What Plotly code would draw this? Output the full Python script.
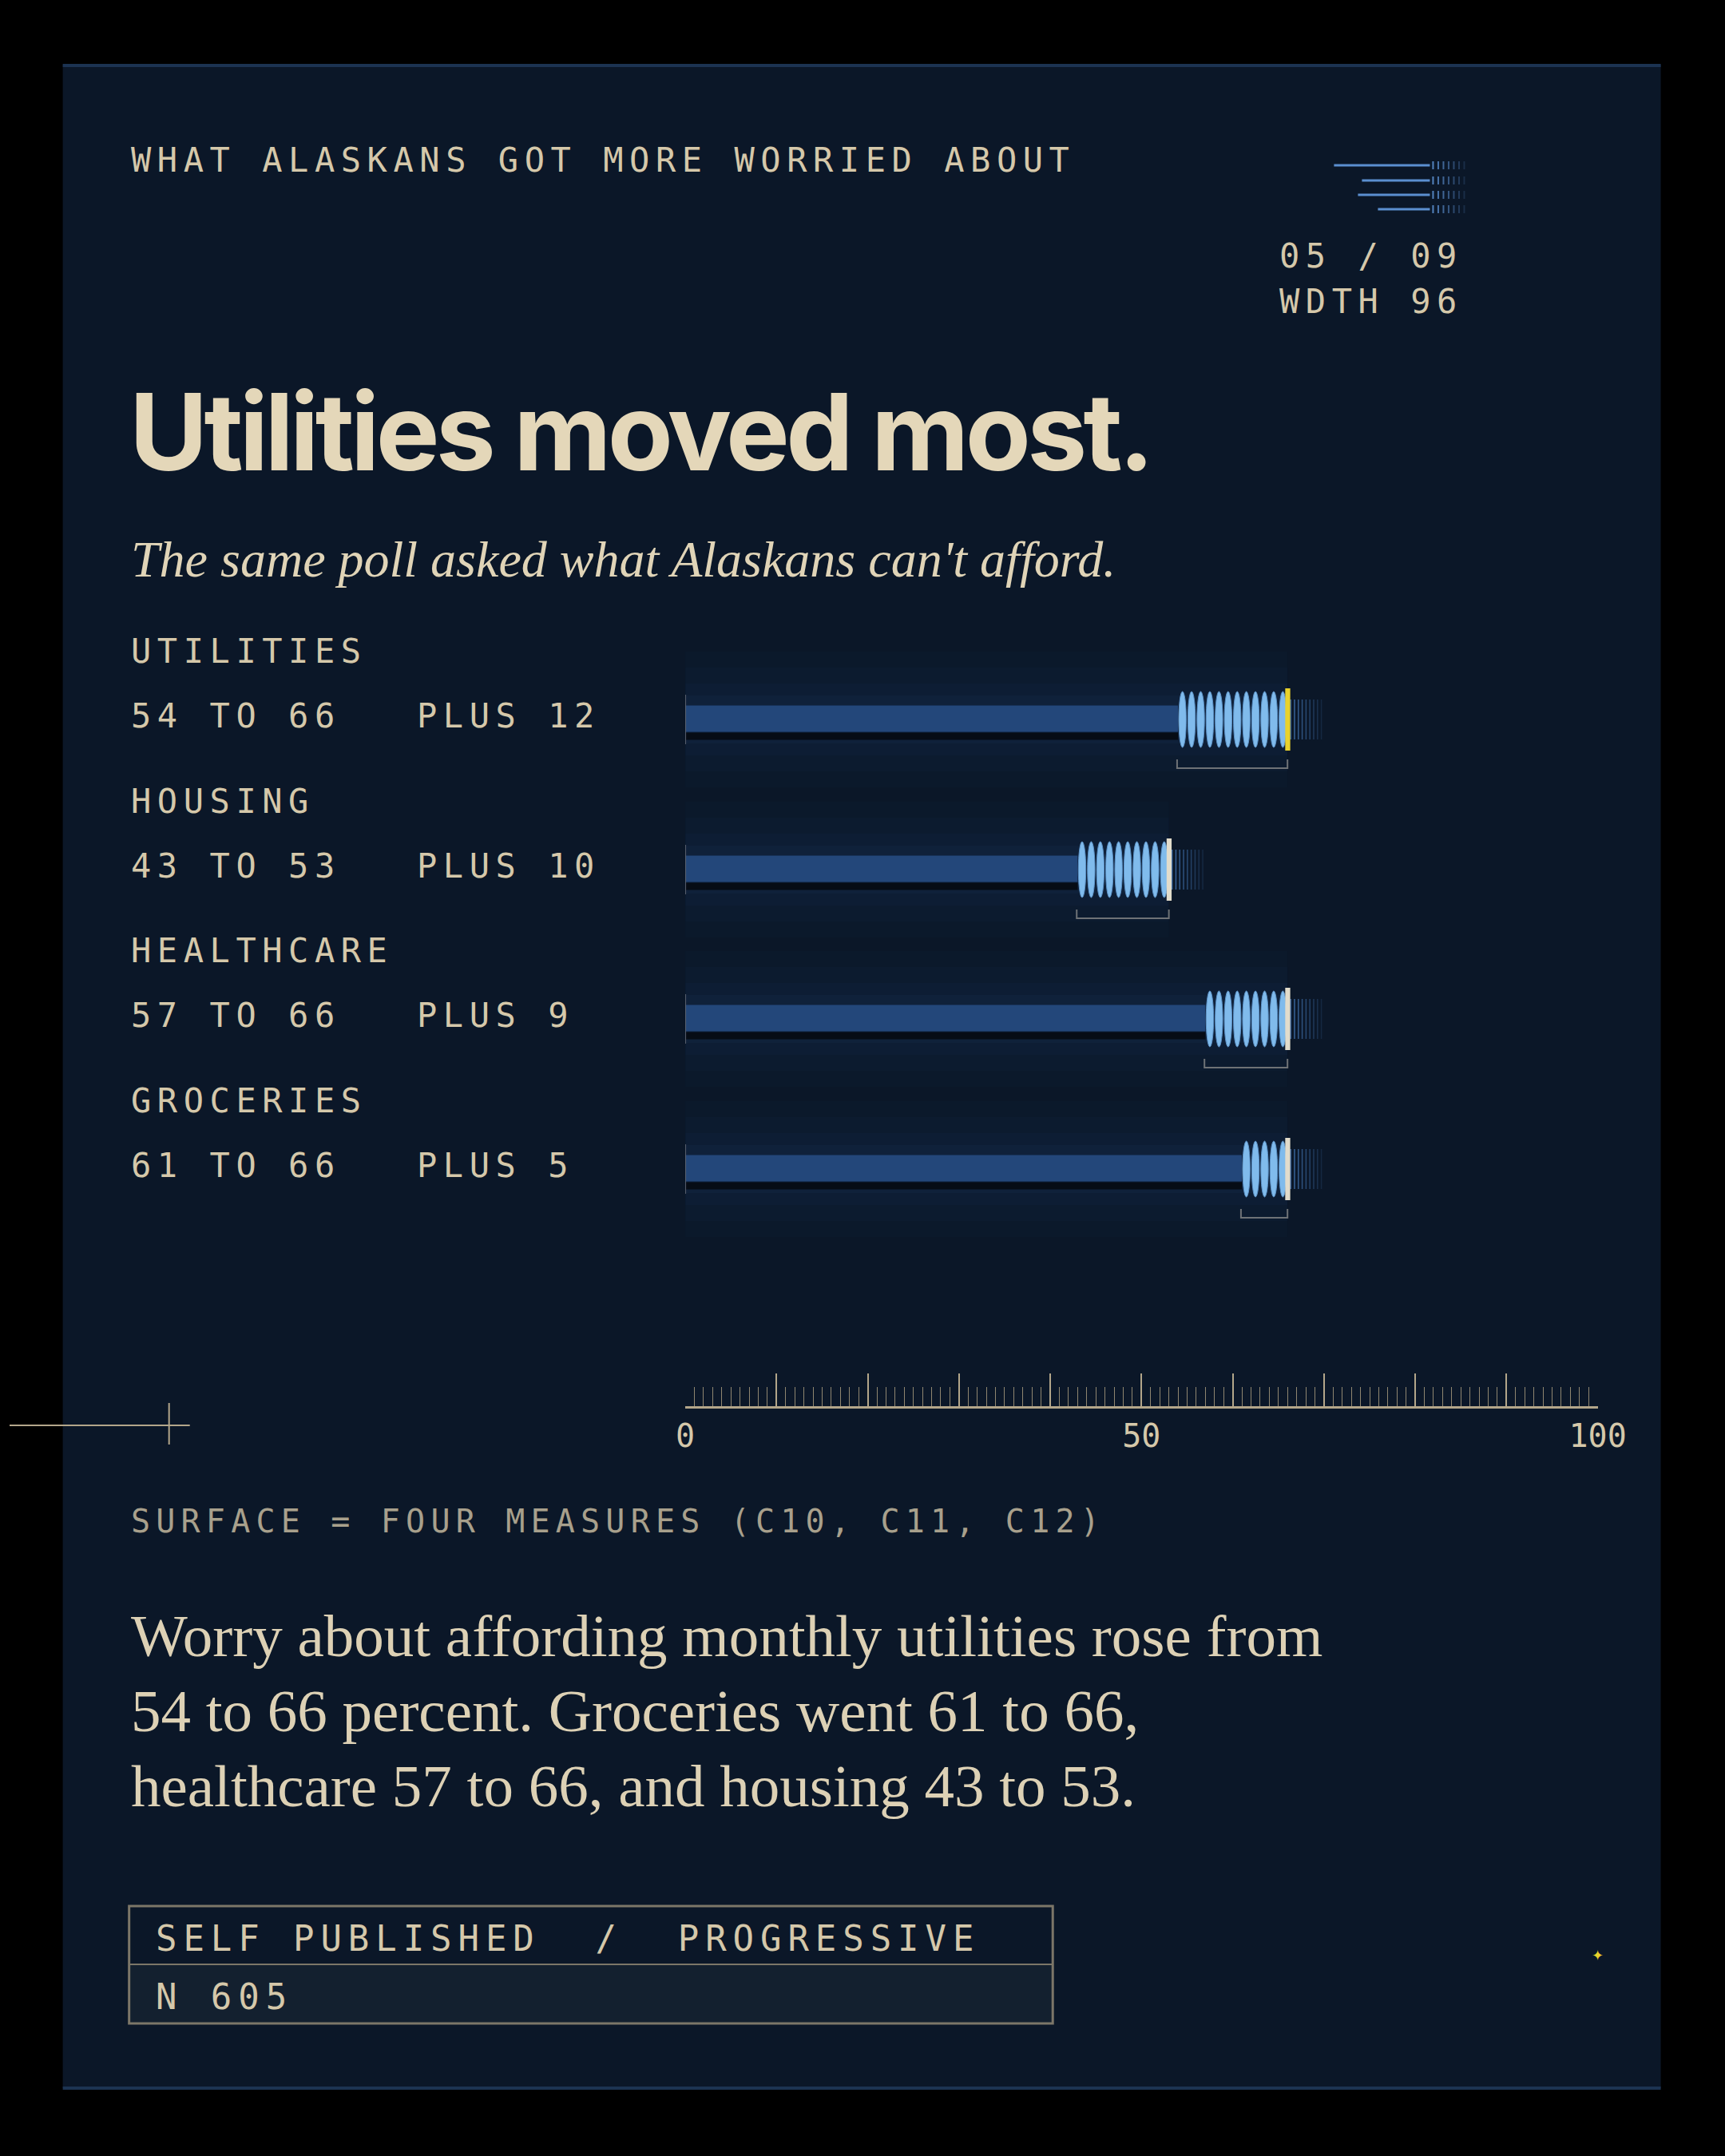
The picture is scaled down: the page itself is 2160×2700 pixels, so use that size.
import plotly.graph_objects as go

# data
categories = ["UTILITIES", "HOUSING", "HEALTHCARE", "GROCERIES"]
before = [54, 43, 57, 61]
after = [66, 53, 66, 66]
axis_ticks = list(range(0, 101, 10))
axis_labels = ["0", "", "", "", "", "50", "", "", "", "", "100"]

W, H = 2160, 2700
BG = "#0b1728"
CREAM = "#d5c8aa"
DIM = "#a8a08c"
MONO = "DejaVu Sans Mono"
row_y = [901, 1089, 1276, 1464]   # pixel centre of each bar row
BAR_DOMAIN = [0.4006, 0.9416]

fig = go.Figure()

# soft glow behind bars
for c, a in zip(row_y, after):
    for w, op in [(170, 0.025), (130, 0.03), (90, 0.04), (60, 0.05)]:
        fig.add_trace(go.Bar(orientation="h", x=[a + 1], y=[c], width=w, base=-1,
                             marker=dict(color="#3a6cb0", line_width=0), opacity=op,
                             xaxis="x2", yaxis="y", showlegend=False, hoverinfo="skip"))

# shadow under the base bar, then the base bar
fig.add_trace(go.Bar(orientation="h", x=before, y=[c + 21 for c in row_y], width=9, base=0,
                     marker=dict(color="#060c15", line_width=0),
                     xaxis="x2", yaxis="y", showlegend=False, hoverinfo="skip"))
fig.add_trace(go.Bar(orientation="h", x=before, y=[c - 1 for c in row_y], width=33, base=0,
                     marker=dict(color="#23477a", line_width=0),
                     xaxis="x2", yaxis="y", showlegend=False, hoverinfo="skip"))

shapes = [
    dict(type="rect", xref="x", yref="y", x0=79, x1=2079, y0=81, y1=2615,
         fillcolor=BG, line_width=0, layer="below"),
]
for i, (c, b, a) in enumerate(zip(row_y, before, after)):
    # zero tick
    shapes.append(dict(type="line", xref="x2", yref="y", x0=0, x1=0, y0=c - 31, y1=c + 31,
                       line=dict(color="#5a6270", width=2)))
    # ridged gain segment
    for k in range(b, a):
        shapes.append(dict(type="circle", xref="x2", yref="y", x0=k + 0.08, x1=k + 0.9,
                           y0=c - 35, y1=c + 35, fillcolor="#80bbec",
                           line=dict(color="#5d93c8", width=1)))
    # faint fading lines after the end
    for j in range(9):
        xx = a + 0.35 + j * 0.42
        shapes.append(dict(type="line", xref="x2", yref="y", x0=xx, x1=xx, y0=c - 25, y1=c + 25,
                           line=dict(color="#4a80c4", width=1.5), opacity=max(0.1, 0.8 - j * 0.08)))
    # end marker
    shapes.append(dict(type="rect", xref="x2", yref="y", x0=a - 0.25, x1=a + 0.3,
                       y0=c - 39, y1=c + 39, line_width=0,
                       fillcolor="#e9d22c" if i == 0 else "#e2dccb"))
    # bracket under gain
    shapes.append(dict(type="path", xref="x2", yref="y",
                       path=f"M {b - 0.1} {c + 50} L {b - 0.1} {c + 61} L {a} {c + 61} L {a} {c + 50}",
                       line=dict(color="#6e7276", width=2)))

shapes += [
    dict(type="line", xref="x", yref="y", x0=79, x1=2079, y0=82, y1=82, line=dict(color="#1c3352", width=4)),
    dict(type="line", xref="x", yref="y", x0=79, x1=2079, y0=2615, y1=2615, line=dict(color="#1c3352", width=4)),
    # crosshair
    dict(type="line", xref="x", yref="y", x0=0, x1=238, y0=1785, y1=1785, line=dict(color="#b3a68a", width=2)),
    dict(type="line", xref="x", yref="y", x0=212, x1=212, y0=1757, y1=1809, line=dict(color="#b3a68a", width=2)),
    # footer box
    dict(type="rect", xref="x", yref="y", x0=162, x1=1318, y0=2460, y1=2534,
         fillcolor="#13202f", line_width=0),
    dict(type="rect", xref="x", yref="y", x0=162, x1=1318, y0=2387, y1=2534,
         line=dict(color="#7c7668", width=3)),
    dict(type="line", xref="x", yref="y", x0=162, x1=1318, y0=2460, y1=2460,
         line=dict(color="#7c7668", width=2)),
]

# small icon top right
for y0, x0 in [(207, 1670), (226, 1705), (244, 1700), (262, 1725)]:
    shapes.append(dict(type="line", xref="x", yref="y", x0=x0, x1=1790, y0=y0, y1=y0,
                       line=dict(color="#5b8fd0", width=3)))
    for j in range(7):
        xx = 1794 + j * 6.5
        shapes.append(dict(type="line", xref="x", yref="y", x0=xx, x1=xx, y0=y0 - 5, y1=y0 + 5,
                           line=dict(color="#5b8fd0", width=2), opacity=0.9 - j * 0.12))

ann = []


def txt(x, y, s, size, color=CREAM, family=MONO, **kw):
    ann.append(dict(x=x, y=y, xref="x", yref="y", text=s, showarrow=False, xanchor="left",
                    yanchor="middle", font=dict(size=size, color=color, family=family), **kw))


txt(162, 200, "WHAT ALASKANS GOT MORE WORRIED ABOUT", 42)
txt(1600, 320, "05 / 09", 42)
txt(1600, 377, "WDTH 96", 42)
txt(160, 540, "<b>Utilities moved most.</b>", 134, color="#e4d7b9", family="Inter")
txt(162, 700, "<i>The same poll asked what Alaskans can't afford.</i>", 64, color="#e0d4b7",
    family="Liberation Serif")
for c, name, b, a in zip(row_y, categories, before, after):
    txt(162, c - 86, name, 42)
    txt(162, c - 5, f"{b} TO {a}", 42)
    txt(520, c - 5, f"PLUS {a - b}", 42)
txt(162, 1905, "SURFACE = FOUR MEASURES (C10, C11, C12)", 40, color=DIM)
for y, line in zip([2048, 2142, 2236], [
        "Worry about affording monthly utilities rose from",
        "54 to 66 percent. Groceries went 61 to 66,",
        "healthcare 57 to 66, and housing 43 to 53."]):
    txt(162, y, line, 75, color="#ddd1b5", family="Liberation Serif")
txt(193, 2427, "SELF PUBLISHED  /  PROGRESSIVE", 44)
txt(193, 2500, "N 605", 44)
ann.append(dict(x=2000, y=2448, xref="x", yref="y", text="✦", showarrow=False,
                font=dict(size=18, color="#e9d22c")))

# ruler uses its own trace so the axis is drawn
fig.add_trace(go.Scatter(x=[0, 100], y=[0, 0], xaxis="x3", yaxis="y2", mode="markers",
                         marker=dict(opacity=0), showlegend=False, hoverinfo="skip"))

fig.update_layout(
    width=W, height=H, margin=dict(l=0, r=0, t=0, b=0),
    paper_bgcolor="#000000", plot_bgcolor="rgba(0,0,0,0)",
    barmode="overlay", shapes=shapes, annotations=ann,
    xaxis=dict(range=[12.4, 2123.4], domain=[0, 1], visible=False, fixedrange=True),
    yaxis=dict(range=[H, 0], domain=[0, 1], visible=False, fixedrange=True),
    xaxis2=dict(range=[0, 100], domain=BAR_DOMAIN, anchor="y", visible=False),
    xaxis3=dict(range=[0, 100], domain=BAR_DOMAIN, anchor="y2", showgrid=False,
                zeroline=False, showline=True, linecolor="#b3a68a", linewidth=3,
                ticks="inside", ticklen=41, tickwidth=2, tickcolor="#b3a68a",
                tickmode="array", tickvals=axis_ticks, ticktext=axis_labels,
                tickfont=dict(family="DejaVu Sans Mono", size=40, color=CREAM),
                minor=dict(dtick=1, ticks="inside", ticklen=24, tickwidth=1.2,
                           tickcolor="#8f8670", showgrid=False)),
    yaxis2=dict(domain=[(H - 1761) / H, (H - 1700) / H], range=[0, 1], visible=False),
)

post = """
var gd = document.getElementById('{plot_id}');
function sp(){
  gd.querySelectorAll('.annotation text').forEach(function(t){
    if (t.getAttribute('data-sp')) return;
    var f = t.style.fontFamily || '';
    var ls = null;
    if (f.indexOf('DejaVu Sans Mono') >= 0) ls = '0.18em';
    if (f.indexOf('Inter') >= 0) ls = '-0.035em';
    if (!ls) return;
    var b0 = t.getBBox().x;
    t.style.letterSpacing = ls;
    var b1 = t.getBBox().x;
    var x = parseFloat(t.getAttribute('x') || '0');
    t.setAttribute('x', x + (b0 - b1));
    t.setAttribute('data-sp', '1');
  });
}
document.body.style.margin = '0';
document.body.style.overflow = 'hidden';
document.body.style.background = '#000';
sp(); gd.on('plotly_afterplot', sp);
"""
fig.write_html("out.html", post_script=post, config={"displayModeBar": False})
